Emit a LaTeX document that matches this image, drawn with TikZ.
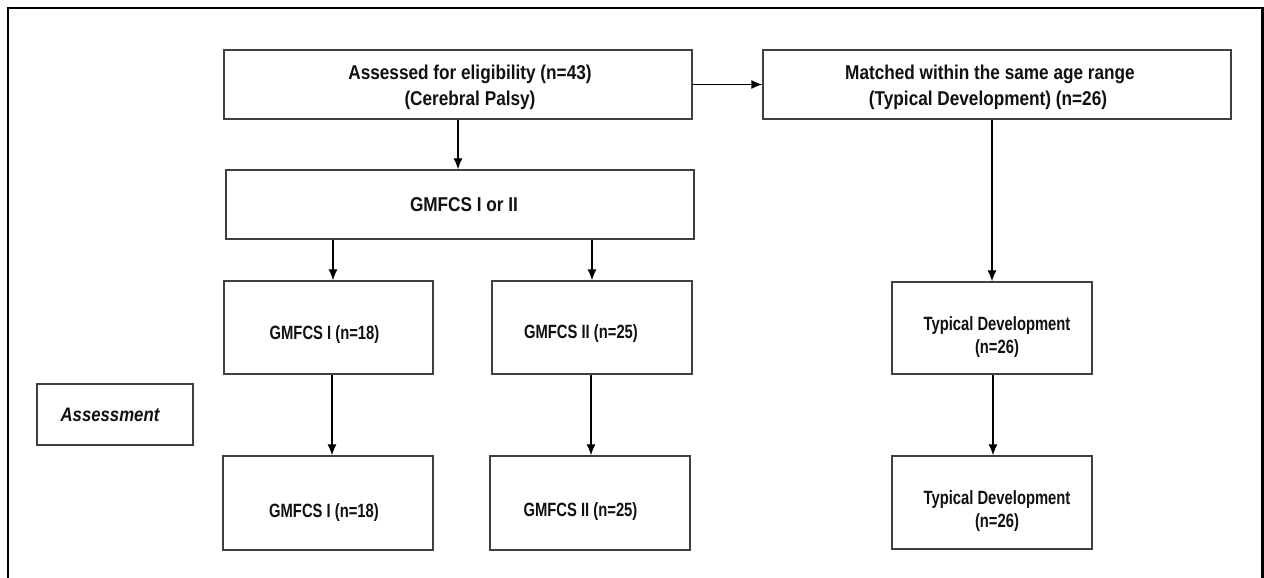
\documentclass[tikz,border=0pt]{standalone}
\usepackage{fontspec}
\setmainfont{Liberation Sans}
\newfontfamily\fbig[FakeStretch=0.86]{Liberation Sans}
\newfontfamily\fsmall[FakeStretch=0.77]{Liberation Sans}
\usetikzlibrary{arrows.meta}
\definecolor{boxc}{HTML}{404040}
\definecolor{txtc}{HTML}{111111}
\tikzset{
  box/.style={draw=boxc, line width=1.4pt, inner sep=0pt, fill=white},
  arr/.style={-{Latex[length=11pt,width=9pt]}, line width=1.1pt, black},
  tbig/.style={anchor=base, inner sep=0pt, text=txtc, font=\fbig\bfseries\fontsize{20}{24}\selectfont},
  tsmall/.style={anchor=base, inner sep=0pt, text=txtc, font=\fsmall\bfseries\fontsize{19.2}{23}\selectfont},
  tital/.style={anchor=base, inner sep=0pt, text=txtc, font=\fbig\bfseries\itshape\fontsize{19.5}{23}\selectfont},
  frame/.style={line width=2.2pt, black}
}
\begin{document}
\begin{tikzpicture}[x=1pt,y=-1pt]
\useasboundingbox (0,0) rectangle (1264,578);
\fill[white] (0,0) rectangle (1264,578);
\draw[frame] (8,578) -- (8,8) -- (1262.5,8) -- (1262.5,578);

% boxes
\node[box, minimum width=468pt, minimum height=69pt] (A) at (458,84.5) {};
\node[box, minimum width=468pt, minimum height=69pt] (M) at (997,84.5) {};
\node[box, minimum width=468pt, minimum height=69pt] (G) at (460,204.5) {};
\node[box, minimum width=209pt, minimum height=93pt] (G1) at (328.5,327.5) {};
\node[box, minimum width=200pt, minimum height=93pt] (G2) at (592,327.5) {};
\node[box, minimum width=210pt, minimum height=94pt] (G1b) at (328,503) {};
\node[box, minimum width=200pt, minimum height=94pt] (G2b) at (590,503) {};
\node[box, minimum width=200pt, minimum height=92pt] (T1) at (992,328) {};
\node[box, minimum width=200pt, minimum height=93pt] (T2) at (992,502.5) {};
\node[box, minimum width=156pt, minimum height=61pt] (As) at (115,414.5) {};

% texts
\node[tbig] (At1) at (470,80) {Assessed for eligibility (n=43)};
\node[tbig] (At2) at (470,106) {(Cerebral Palsy)};
\node[tbig] (Mt1) at (990,80) {Matched within the same age range};
\node[tbig] (Mt2) at (988,106) {(Typical Development) (n=26)};
\node[tbig] (Gt) at (464,211) {GMFCS I or II};
\node[tsmall] (G1t) at (324.5,339) {GMFCS I (n=18)};
\node[tsmall] (G2t) at (581,338) {GMFCS II (n=25)};
\node[tsmall] (G1bt) at (324,517) {GMFCS I (n=18)};
\node[tsmall] (G2bt) at (580.5,516) {GMFCS II (n=25)};
\node[tsmall] (T1t1) at (997,330) {Typical Development};
\node[tsmall] (T1t2) at (997,353) {(n=26)};
\node[tsmall] (T2t1) at (997,504) {Typical Development};
\node[tsmall] (T2t2) at (997,527) {(n=26)};
\node[tital] (Ast) at (110,421) {Assessment};

% connectors
\draw[arr] (A.east) -- (M.west);
\draw[arr] (A.south) -- (A.south |- G.north);
\draw[arr] ([xshift=4.5pt]G1.north |- G.south) -- ([xshift=4.5pt]G1.north);
\draw[arr] (G2.north |- G.south) -- (G2.north);
\draw[arr] ([xshift=3.5pt]G1.south) -- ([xshift=4pt]G1b.north);
\draw[arr] ([xshift=-1pt]G2.south) -- ([xshift=1pt]G2b.north);
\draw[arr] (T1.north |- M.south) -- (T1.north);
\draw[arr] ([xshift=1pt]T1.south) -- ([xshift=1pt]T2.north);
\end{tikzpicture}
\end{document}
